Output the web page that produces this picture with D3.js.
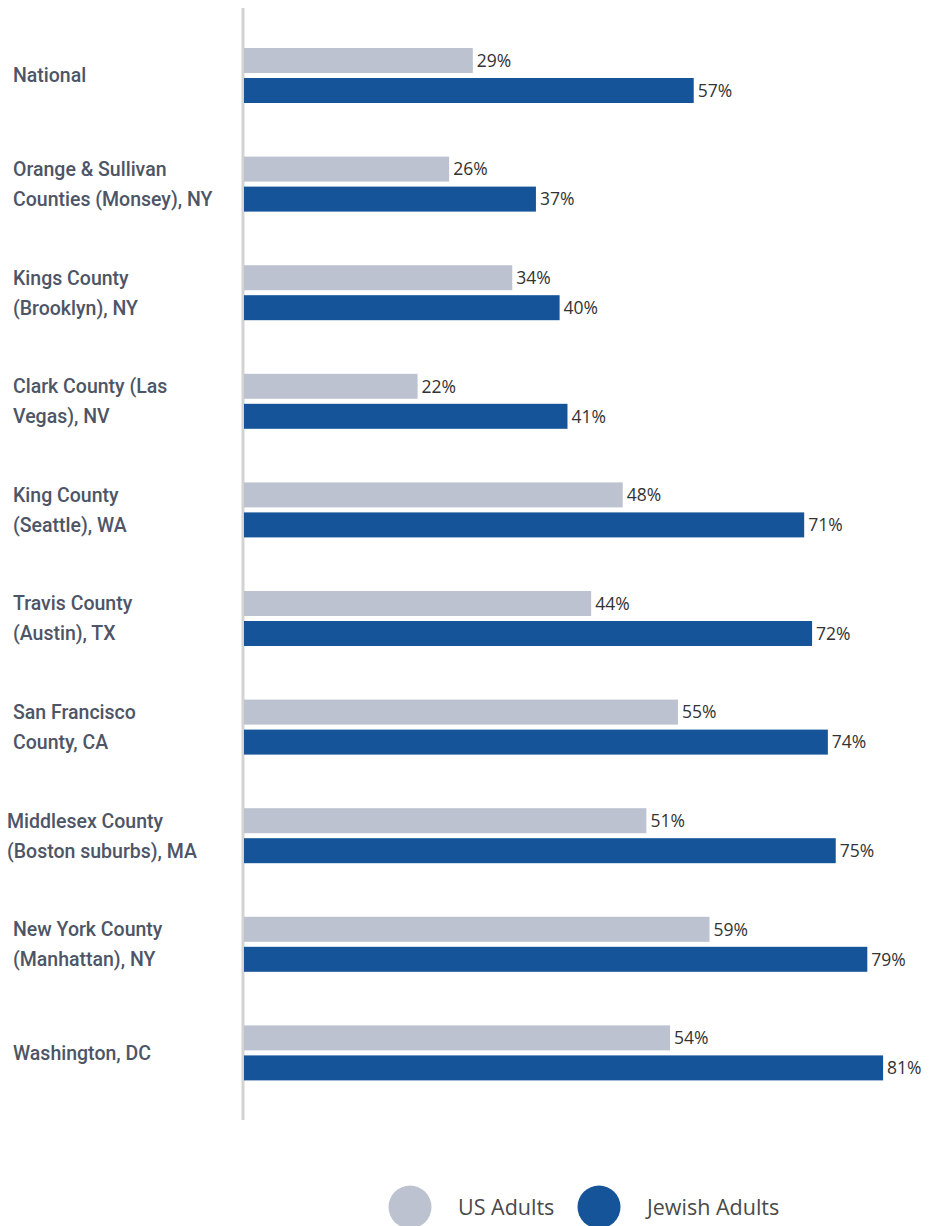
<!DOCTYPE html>
<html>
<head>
  <meta charset="UTF-8">
  <title>US vs Jewish Adults</title>
  <script src="https://d3js.org/d3.v7.min.js"></script>
  <style>
    body {
      margin: 0;
      background: #fff;
    }
    .cat-label {
      font-family: Roboto, "Noto Sans", sans-serif;
      font-size: 19.5px;
      font-weight: 500;
      fill: #4d5566;
    }
    .val-label {
      font-family: "Open Sans", Lato, sans-serif;
      font-size: 17.5px;
      fill: #333;
    }
    .legend text {
      font-family: "Open Sans", Lato, sans-serif;
      font-size: 21.5px;
      fill: #4a4a4a;
    }
  </style>
</head>
<body>
  <div id="chart"></div>
  <script>
    const categories = [
      ["National"],
      ["Orange & Sullivan", "Counties (Monsey), NY"],
      ["Kings County", "(Brooklyn), NY"],
      ["Clark County (Las", "Vegas), NV"],
      ["King County", "(Seattle), WA"],
      ["Travis County", "(Austin), TX"],
      ["San Francisco", "County, CA"],
      ["Middlesex County", "(Boston suburbs), MA"],
      ["New York County", "(Manhattan), NY"],
      ["Washington, DC"]
    ];
    const usAdults = [29, 26, 34, 22, 48, 44, 55, 51, 59, 54];
    const jewishAdults = [57, 37, 40, 41, 71, 72, 74, 75, 79, 81];
    const seriesNames = ["US Adults", "Jewish Adults"];
    const colors = ["#bcc2cf", "#16549a"];

    const width = 933, height = 1226;
    const x0 = 244;

    const svg = d3.select("#chart")
      .append("svg")
      .attr("width", width)
      .attr("height", height);

    const x = d3.scaleLinear()
      .domain([0, 100])
      .range([x0, x0 + 789]);

    const y = d3.scaleBand()
      .domain(d3.range(categories.length))
      .range([21, 21 + 108.6 * categories.length]);

    // two bars per row: 25px tall, 5px apart
    const inner = d3.scaleBand()
      .domain([0, 1])
      .range([27, 82])
      .paddingInner(1 / 6);

    // axis line
    svg.append("line")
      .attr("x1", x0 - 1).attr("x2", x0 - 1)
      .attr("y1", 8).attr("y2", 1120)
      .attr("stroke", "#d3d3d3")
      .attr("stroke-width", 3);

    const rows = svg.selectAll(".row")
      .data(categories)
      .enter()
      .append("g")
      .attr("class", "row")
      .attr("transform", (d, i) => `translate(0, ${y(i)})`);

    [usAdults, jewishAdults].forEach((vals, s) => {
      rows.append("rect")
        .attr("x", x(0))
        .attr("y", inner(s))
        .attr("width", (d, i) => x(vals[i]) - x(0))
        .attr("height", inner.bandwidth())
        .attr("fill", colors[s]);

      rows.append("text")
        .attr("class", "val-label")
        .attr("x", (d, i) => x(vals[i]) + 4)
        .attr("y", inner(s) + inner.bandwidth() / 2)
        .attr("dy", "0.36em")
        .text((d, i) => vals[i] + "%");
    });

    rows.each(function(lines) {
      const g = d3.select(this);
      const mid = 54.5;
      const lh = 30;
      const top = mid - (lines.length - 1) * lh / 2;
      lines.forEach((t, k) => {
        g.append("text")
          .attr("class", "cat-label")
          .attr("x", t.startsWith("Middlesex") || t.startsWith("(Boston") ? 7 : 13)
          .attr("y", top + k * lh)
          .attr("dy", "0.35em")
          .text(t);
      });
    });

    // legend
    const legend = svg.append("g")
      .attr("class", "legend")
      .attr("transform", "translate(0, 1207)");
    const legendX = [410, 599];
    seriesNames.forEach((name, i) => {
      legend.append("circle")
        .attr("cx", legendX[i])
        .attr("cy", 0)
        .attr("r", 21.5)
        .attr("fill", colors[i]);
      legend.append("text")
        .attr("x", legendX[i] + 48)
        .attr("y", 0)
        .attr("dy", "0.35em")
        .text(name);
    });
  </script>
</body>
</html>
